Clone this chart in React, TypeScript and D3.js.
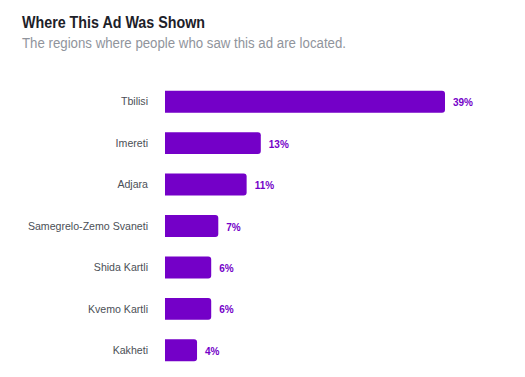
import React from "react";
import * as d3 from "d3";

const categories = ["Tbilisi", "Imereti", "Adjara", "Samegrelo-Zemo Svaneti", "Shida Kartli", "Kvemo Kartli", "Kakheti"];
const values = [39, 13, 11, 7, 6, 6, 4];
const valueLabels = ["39%", "13%", "11%", "7%", "6%", "6%", "4%"];

const title = "Where This Ad Was Shown";
const subtitle = "The regions where people who saw this ad are located.";

export default function App() {
  const W = 525, H = 377;
  const x0 = 165;
  const x = d3.scaleLinear().domain([0, 39]).range([3.7, 280]);
  const y = d3.scaleBand().domain(categories).range([81, 371]).paddingInner(0.47).paddingOuter(0.235);
  const r = 3;
  const barPath = (w: number, top: number, h: number) => {
    const p = d3.path();
    p.moveTo(x0, top);
    p.lineTo(x0 + w - r, top);
    p.arcTo(x0 + w, top, x0 + w, top + r, r);
    p.lineTo(x0 + w, top + h - r);
    p.arcTo(x0 + w, top + h, x0 + w - r, top + h, r);
    p.lineTo(x0, top + h);
    p.closePath();
    return p.toString();
  };
  return (
    <svg width={W} height={H} style={{ position: "absolute", left: 0, top: 0, background: "#fff" }}>
      <text x={22} y={28} fontFamily="Liberation Sans, Arial, sans-serif" fontWeight="bold" fontSize={16} fill="#1d2129" textLength={183} lengthAdjust="spacingAndGlyphs">{title}</text>
      <text x={22} y={48} fontFamily="Liberation Sans, Arial, sans-serif" fontSize={14} fill="#90949c" textLength={324} lengthAdjust="spacingAndGlyphs">{subtitle}</text>
      {categories.map((c, i) => {
        const top = y(c)!;
        const h = y.bandwidth();
        const w = x(values[i]);
        return (
          <g key={c}>
            <text x={148} y={top + h / 2} dy="0.35em" textAnchor="end" fontFamily="Liberation Sans, Arial, sans-serif" fontSize={10.6} fill="#4b4f56">{c}</text>
            <path d={barPath(w, top, h)} fill="#7400c8" />
            <text x={x0 + w + 8} y={top + h / 2 + 1} dy="0.35em" fontFamily="Liberation Sans, Arial, sans-serif" fontWeight="bold" fontSize={10} fill="#7400c8">{valueLabels[i]}</text>
          </g>
        );
      })}
    </svg>
  );
}
